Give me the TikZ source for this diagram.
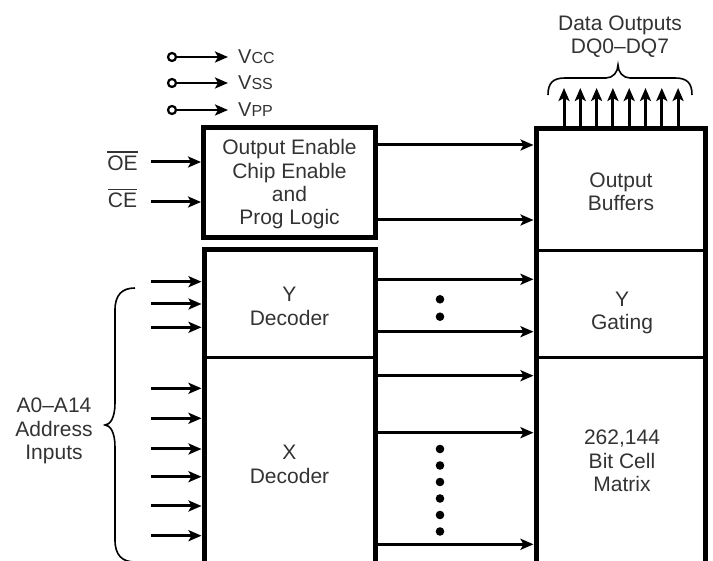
\documentclass[tikz,border=0pt]{standalone}
\usepackage{fontspec}
\setmainfont{Liberation Sans}
\usetikzlibrary{arrows.meta,calc}
\begin{document}
\begin{tikzpicture}[x=1pt,y=-1pt,
  box/.style={draw, line width=5pt, inner sep=0pt},
  conn/.style={line width=3pt, -{Stealth[length=13pt,width=11pt,inset=3pt]}},
  divider/.style={line width=3pt},
  lbl/.style={text=black!80, font=\fontsize{21}{23.3}\selectfont, align=center, inner sep=0pt},
  vlbl/.style={text=black!80, font=\fontsize{20}{22}\selectfont, inner sep=0pt, anchor=base west},
  dotm/.style={circle, fill=black, minimum size=8.6pt, inner sep=0pt},
  pin/.style={circle, draw, line width=2.2pt, minimum size=8pt, inner sep=0pt, fill=white},
  ovl/.style={line width=1.6pt, black!80},
  bracel/.style={line width=1.6pt}
]
\useasboundingbox (0,0) rectangle (713,561);
\clip (0,0) rectangle (713,561);

% boxes
\node[box, minimum width=171.5pt, minimum height=110pt] (ctrl) at (289.25,183) {};
\node[box, minimum width=171pt, minimum height=360pt] (dec) at (289.5,430) {};
\node[box, minimum width=169pt, minimum height=481pt] (mem) at (620.5,369.5) {};

% dividers
\coordinate (dv1) at (0,357.3);
\coordinate (dv2) at (0,251);
\draw[divider] (dv1 -| dec.west) -- (dv1 -| dec.east);
\draw[divider] (dv1 -| mem.west) -- (dv1 -| mem.east);
\draw[divider] (dv2 -| mem.west) -- (dv2 -| mem.east);

% box texts
\node[lbl] (ctrltxt) at (289.5,184.5) {Output Enable\\Chip Enable\\and\\Prog Logic};
\node[lbl] (ydtxt) at (289.5,306.5) {Y\\Decoder};
\node[lbl] (xdtxt) at (289.5,464.5) {X\\Decoder};
\node[lbl] (obtxt) at (621,191.5) {Output\\Buffers};
\node[lbl] (ygtxt) at (622,313) {Y\\Gating};
\node[lbl] (bctxt) at (622,461) {262,144\\Bit Cell\\Matrix};

% supply pins
\foreach \i/\y/\s in {1/57/CC,2/83/SS,3/110/PP}{
  \node[pin] (p\i) at (172,\y) {};
  \coordinate (pt\i) at (228,\y);
  \draw[conn, line width=2.6pt] (p\i) -- (pt\i);
  \node[vlbl] (vl\i) at (238,\y+6.5) {V{\fontsize{16}{18}\selectfont \s}};
}

% OE / CE
\node[lbl] (oe) at (122.5,163) {OE};
\node[lbl] (ce) at (122.5,200.5) {CE};
\draw[ovl] ([yshift=3.5pt]oe.north west) -- ([yshift=3.5pt]oe.north east);
\draw[ovl] ([yshift=3.5pt]ce.north west) -- ([yshift=3.5pt]ce.north east);
\coordinate (oein) at (151,162);
\coordinate (cein) at (151,202);
\draw[conn] (oein) -- (oein -| ctrl.west);
\draw[conn] (cein) -- (cein -| ctrl.west);

% ctrl -> output buffers
\coordinate (cb1) at (0,145);
\coordinate (cb2) at (0,220);
\draw[conn] (cb1 -| ctrl.east) -- (cb1 -| mem.west);
\draw[conn] (cb2 -| ctrl.east) -- (cb2 -| mem.west);

% address inputs
\foreach \y [count=\k] in {281.7,304,327.3,388.3,418.3,449,476.7,506,535.7}{
  \coordinate (a\k) at (151,\y);
  \draw[conn] (a\k) -- (a\k -| dec.west);
}

% decoder -> memory
\foreach \y [count=\k] in {279.3,331.7,375.7,432.7,544.3}{
  \coordinate (r\k) at (0,\y);
  \draw[conn] (r\k -| dec.east) -- (r\k -| mem.west);
}

% dots
\node[dotm] (yd1) at (440,299.3) {};
\node[dotm] (yd2) at (440,316.7) {};
\foreach \k in {0,...,5}{
  \node[dotm] (xd\k) at (440,449+16.5*\k) {};
}

% address brace and label
\draw[bracel] (135,288) .. controls (122,288) and (115,295) .. (115,310)
  -- (115,403) .. controls (115,418) and (110,425) .. (105,425)
  .. controls (110,425) and (115,432) .. (115,447)
  -- (115,540) .. controls (115,555) and (122,562) .. (135,562);
\node[lbl] (addr) at (54,431) {A0--A14\\Address\\Inputs};

% data outputs
\foreach \k in {0,...,7}{
  \coordinate (d\k) at (564+16.3*\k,88);
  \draw[conn] (d\k |- mem.north) -- (d\k);
}
\draw[bracel] (548,95) .. controls (548,83) and (553,78) .. (565,78)
  -- (606,78) .. controls (613,78) and (618,72) .. (618,65)
  .. controls (618,72) and (623,78) .. (630,78)
  -- (675,78) .. controls (687,78) and (692,83) .. (692,95);
\node[lbl] (dtxt) at (620,36.5) {Data Outputs\\DQ0--DQ7};
\end{tikzpicture}
\end{document}
